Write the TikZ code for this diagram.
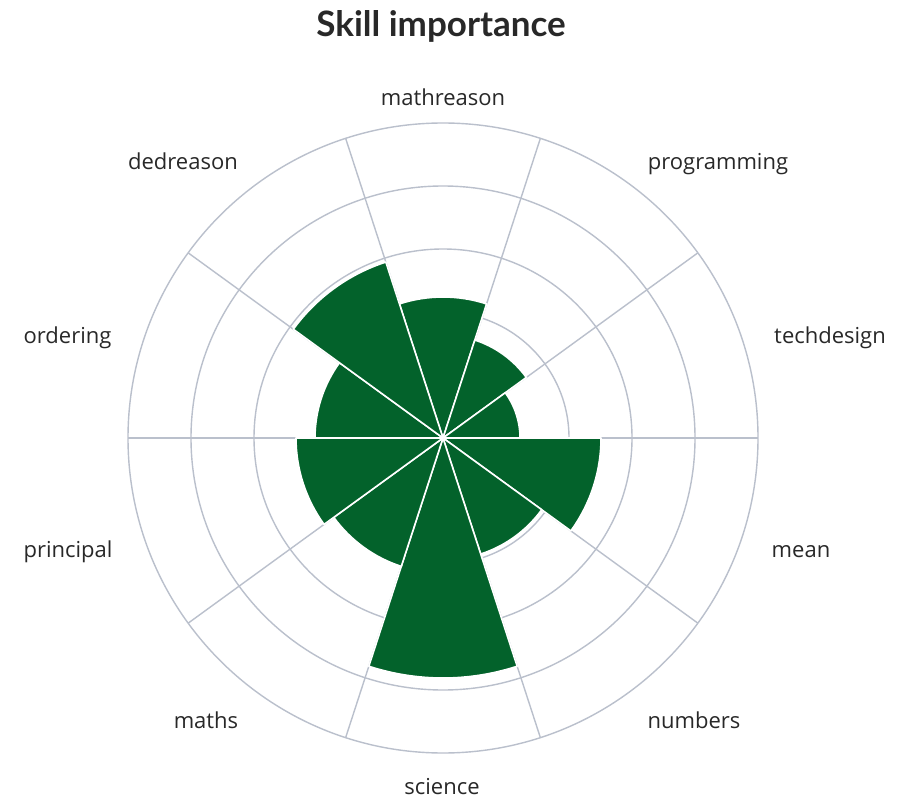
\documentclass[tikz,border=0pt]{standalone}
\usepackage{fontspec}
\setmainfont{Open Sans}
\newfontfamily\titlefont{Lato}
\definecolor{wedgegreen}{RGB}{3,98,43}
\definecolor{gridc}{RGB}{186,192,204}
\definecolor{txt}{RGB}{40,40,40}
\begin{document}
\begin{tikzpicture}[x=1pt,y=1pt,
  lbl/.style={font=\fontsize{22}{25}\selectfont, text=txt, inner sep=0pt, anchor=base},
  ttl/.style={font=\titlefont\bfseries\fontsize{35}{40}\selectfont, text=txt, inner sep=0pt, anchor=base},
  gridline/.style={draw=gridc, line width=1.4},
  wedgeshape/.style={fill=wedgegreen, draw=white, line width=1.6, line join=round}]
\useasboundingbox[fill=white] (0,0) rectangle (923,807);
\coordinate (C) at (443,369);
\foreach \r in {63,126,189,252,315} \draw[gridline] (C) circle[radius=\r];
\foreach \a in {0,36,...,324} \draw[gridline] (C) -- ++(\a:315);
\foreach \v [count=\i from 0] in {141,103,77,158,122,240,135,147,128,185} {
  \pgfmathsetmacro\mid{90-36*\i}
  \draw[wedgeshape] (C) -- ++(\mid+18:\v) arc[start angle=\mid+18, end angle=\mid-18, radius=\v] -- cycle;
}
\node[ttl] (title) at (441,770) {Skill importance};
\node[lbl] (l0) at (443,701) {mathreason};
\node[lbl] (l1) at (718,637) {programming};
\node[lbl] (l2) at (830,464) {techdesign};
\node[lbl] (l3) at (801,250) {mean};
\node[lbl] (l4) at (694,79) {numbers};
\node[lbl] (l5) at (442,13) {science};
\node[lbl] (l6) at (206,79) {maths};
\node[lbl] (l7) at (68,250) {principal};
\node[lbl] (l8) at (67.5,464) {ordering};
\node[lbl] (l9) at (183,637) {dedreason};
\end{tikzpicture}
\end{document}
